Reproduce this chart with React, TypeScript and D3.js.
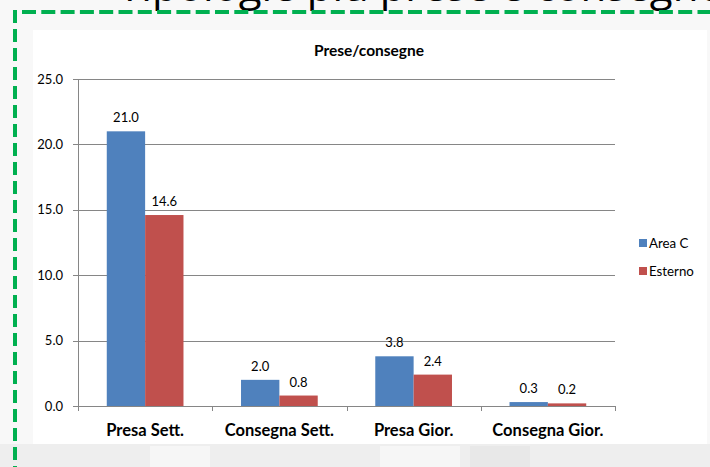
import React from 'react';
import * as d3 from 'd3';

const WIDTH = 710;
const HEIGHT = 467;

const CATEGORIES = ['Presa Sett.', 'Consegna Sett.', 'Presa Gior.', 'Consegna Gior.'];
const SERIES = ['Area C', 'Esterno'];
const AREA_C = [21.0, 2.0, 3.8, 0.3];
const ESTERNO = [14.6, 0.8, 2.4, 0.2];
const Y_TICKS = [0, 5, 10, 15, 20, 25];
const COLORS = ['#4F81BD', '#C0504D'];

const PLOT = { left: 78, right: 615, top: 79, bottom: 406 };
const FONT = 'Lato, "Open Sans", sans-serif';

export default function App() {
  const x = d3.scaleBand<string>().domain(CATEGORIES).range([PLOT.left, PLOT.right]);
  const x1 = d3.scaleBand<string>().domain(SERIES).range([0, x.bandwidth()]).paddingOuter(0.75);
  const y = d3.scaleLinear().domain([0, 25]).range([PLOT.bottom, PLOT.top]);
  const values = [AREA_C, ESTERNO];

  const boundaries = CATEGORIES.map((c) => x(c) as number).concat([PLOT.right]);

  return (
    <svg
      width={WIDTH}
      height={HEIGHT}
      style={{ position: 'absolute', left: 0, top: 0, fontFamily: FONT }}
    >
      {/* page background */}
      <rect x={0} y={0} width={WIDTH} height={HEIGHT} fill="#f8f8f8" />
      <rect x={0} y={444} width={WIDTH} height={23} fill="#eeeeee" />
      <rect x={150} y={446} width={60} height={21} fill="#f6f6f6" />
      <rect x={380} y={446} width={80} height={21} fill="#f6f6f6" />
      <rect x={470} y={446} width={60} height={21} fill="#e8e8e8" />

      {/* slide title, mostly cut off at the top edge */}
      <text x={722} y={1} textAnchor="end" fontSize={42} fontFamily='"Open Sans", sans-serif' fill="#000">
        Tipologie più prese e consegne
      </text>

      {/* chart area */}
      <rect x={33} y={30} width={674} height={414} fill="#ffffff" />

      {/* green dashed frame */}
      <line x1={22} x2={712} y1={12} y2={12} stroke="#00B050" strokeWidth={4} strokeDasharray="14,5.3" />
      <line x1={15} x2={15} y1={10} y2={470} stroke="#00B050" strokeWidth={4} strokeDasharray="13,6" />

      <text x={369} y={56} textAnchor="middle" fontSize={15.5} fontWeight="bold" fill="#000">
        Prese/consegne
      </text>

      {/* gridlines and y axis */}
      {Y_TICKS.map((t) => (
        <g key={t}>
          <line x1={PLOT.left - 5} x2={PLOT.right} y1={Math.round(y(t)) + 0.5} y2={Math.round(y(t)) + 0.5} stroke="#868686" strokeWidth={1} />
          <text x={63} y={y(t)} dy="0.35em" textAnchor="end" fontSize={13} fill="#000">
            {t.toFixed(1)}
          </text>
        </g>
      ))}
      <line x1={PLOT.left + 0.5} x2={PLOT.left + 0.5} y1={PLOT.top} y2={PLOT.bottom} stroke="#868686" />

      {/* bars */}
      {CATEGORIES.map((c, ci) => (
        <g key={c}>
          {SERIES.map((s, si) => {
            const v = values[si][ci];
            const bx = (x(c) as number) + (x1(s) as number);
            return (
              <g key={s}>
                <rect x={bx} y={y(v)} width={x1.bandwidth()} height={y(0) - y(v)} fill={COLORS[si]} />
                <text x={bx + x1.bandwidth() / 2} y={y(v) - 9} textAnchor="middle" fontSize={13} fill="#000">
                  {v.toFixed(1)}
                </text>
              </g>
            );
          })}
        </g>
      ))}

      {/* x axis ticks */}
      {boundaries.map((b, i) => (
        <line key={i} x1={Math.round(b) + 0.5} x2={Math.round(b) + 0.5} y1={PLOT.bottom} y2={PLOT.bottom + 5} stroke="#868686" />
      ))}
      {CATEGORIES.map((c) => (
        <text key={c} x={(x(c) as number) + x.bandwidth() / 2} y={436} textAnchor="middle" fontSize={16.5} fontWeight="bold" fill="#000">
          {c}
        </text>
      ))}

      {/* legend */}
      {SERIES.map((s, i) => (
        <g key={s} transform={`translate(639,${239 + i * 28})`}>
          <rect x={0} y={0} width={8} height={8} fill={COLORS[i]} />
          <text x={10} y={4} dy="0.35em" fontSize={13.3} fill="#000">
            {s}
          </text>
        </g>
      ))}
    </svg>
  );
}
